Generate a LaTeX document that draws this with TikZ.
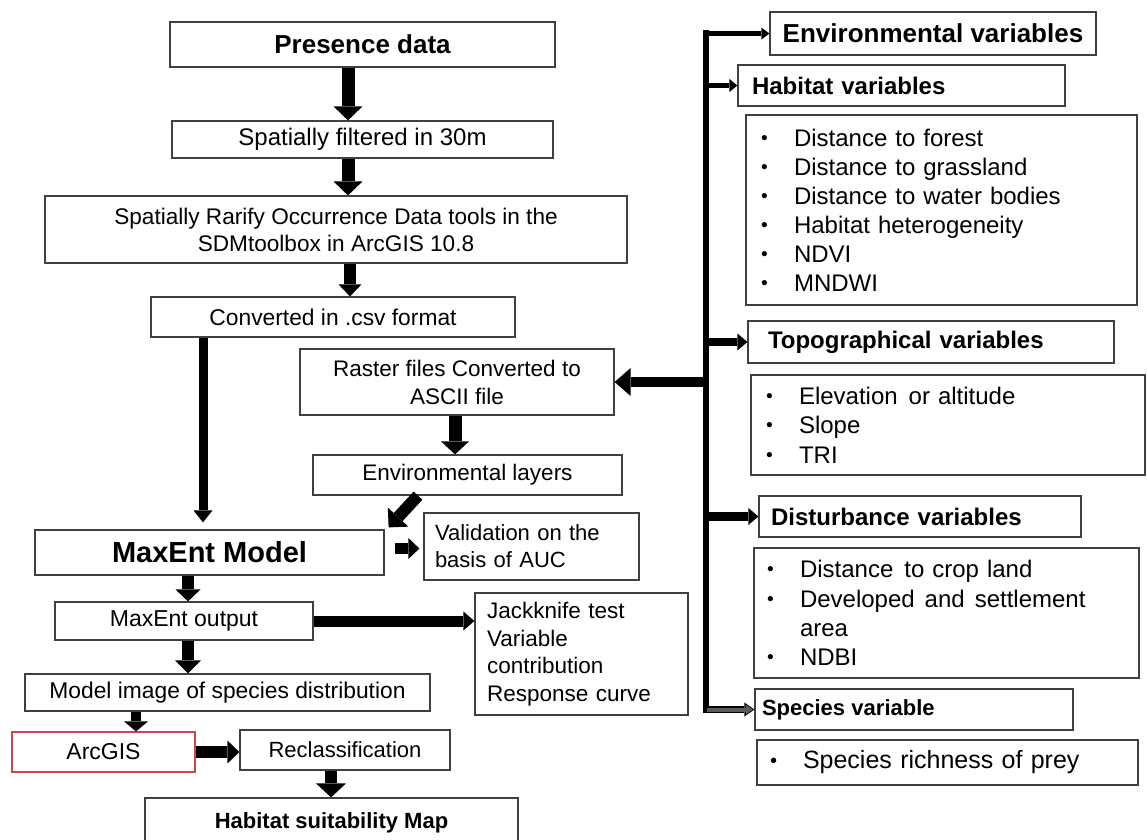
\documentclass[tikz,border=0pt]{standalone}
\usepackage{fontspec}
\setmainfont{Liberation Sans}
\usetikzlibrary{arrows.meta}
\newcommand\fsz[2]{\fontsize{#1}{#2}\selectfont}
\newcommand\bul{\makebox[34pt][l]{\hspace{1pt}\raisebox{1.8pt}{\scalebox{0.8}{\textbullet}}}}
\definecolor{edge}{RGB}{64,64,64}
\definecolor{redline}{RGB}{205,70,70}
\definecolor{greyarrow}{RGB}{90,90,90}
\begin{document}
\begin{tikzpicture}[x=1pt,y=-1pt,
  box/.style={draw=edge, line width=1.2pt, inner sep=0pt, align=center},
  lbox/.style={draw=edge, line width=1.2pt, inner ysep=0pt, align=left},
  blk/.style n args={3}{line width=#1pt, draw=black,
    -{Triangle[width=#2pt,length=#3pt,line width=0pt]}},
]
\useasboundingbox (0,0) rectangle (1147,839);

% ---------------- left column: processing steps ----------------
\node[box, minimum width=385pt, minimum height=45pt, font=\fsz{26}{31}\bfseries]
  (pres) at (362.5,44.5) {Presence data};
\node[box, minimum width=381pt, minimum height=37pt, font=\fsz{24}{29}]
  (filt) at (362.5,139.5) {Spatially filtered in 30m};
\node[box, minimum width=582pt, minimum height=67pt, font=\fsz{22.6}{27}]
  (rar) at (336,229.5) {Spatially Rarify Occurrence Data tools in the\\SDMtoolbox in ArcGIS 10.8};
\node[box, minimum width=364pt, minimum height=40pt, font=\fsz{22.8}{27}]
  (csv) at (333,317) {Converted in .csv format};
\node[box, minimum width=314pt, minimum height=66pt, font=\fsz{22.5}{28}]
  (rast) at (457,382) {Raster files Converted to\\ASCII file};
\node[box, minimum width=309pt, minimum height=40pt, font=\fsz{22.5}{27}]
  (env) at (467.5,475) {Environmental layers};
\node[box, minimum width=349pt, minimum height=45pt, font=\fsz{29}{34}\bfseries]
  (maxent) at (209.5,552.5) {MaxEnt Model};
\node[lbox, text width=193pt, inner xsep=11pt, minimum height=67pt, font=\fsz{22}{27}]
  (valid) at (531.5,546.5) {Validation on the\\basis of AUC};
\node[box, minimum width=258pt, minimum height=38pt, font=\fsz{23}{27}]
  (mout) at (184,621) {MaxEnt output};
\node[lbox, text width=189pt, inner xsep=12pt, minimum height=122pt, font=\fsz{22.5}{27.5}]
  (jack) at (581.5,654) {Jackknife test\\Variable\\contribution\\Response curve};
\node[box, minimum width=405pt, minimum height=37pt, font=\fsz{22.8}{27}]
  (model) at (227.5,692.5) {Model image of species distribution};
\node[box, draw=redline, minimum width=183pt, minimum height=40pt, font=\fsz{23}{27}]
  (arcgis) at (103.5,752) {ArcGIS};
\node[box, minimum width=210pt, minimum height=40pt, font=\fsz{22}{27}]
  (recl) at (345,750) {Reclassification};
\node[box, minimum width=373pt, minimum height=50pt, font=\fsz{22}{27}\bfseries]
  (hsm) at (331.5,823) {Habitat suitability Map};

% ---------------- right column: variables ----------------
\node[box, minimum width=326pt, minimum height=43pt, font=\fsz{26}{31}\bfseries]
  (ev) at (933,33.5) {Environmental variables};
\node[lbox, text width=299pt, inner xsep=14pt, minimum height=41pt, font=\fsz{24}{29}\bfseries]
  (hv) at (901.5,85.5) {Habitat variables};
\node[lbox, text width=363pt, inner xsep=14pt, minimum height=190pt, font=\fsz{24}{29}]
  (hl) at (941.5,210) {\bul Distance to forest\\\bul Distance to grassland\\\bul Distance to water bodies\\\bul Habitat heterogeneity\\\bul NDVI\\\bul MNDWI};
\node[lbox, text width=326pt, inner xsep=20pt, minimum height=42pt, font=\fsz{24}{29}\bfseries]
  (tv) at (931,342) {Topographical variables};
\node[lbox, text width=366pt, inner xsep=14pt, minimum height=100pt, font=\fsz{24}{29.5}]
  (tl) at (948,425) {\bul Elevation\hspace{3pt} or altitude\\\bul Slope\\\bul TRI};
\node[lbox, text width=298pt, inner xsep=12pt, minimum height=41pt, font=\fsz{24}{29}\bfseries]
  (dv) at (920,516.5) {Disturbance variables};
\node[lbox, text width=361pt, inner xsep=12pt, minimum height=130pt, font=\fsz{24}{29.3}]
  (dl) at (946.5,613) {\bul Distance\hspace{3pt} to crop land\\\bul Developed\hspace{2pt} and\hspace{2pt} settlement\\\makebox[34pt]{}area\\\bul NDBI};
\node[lbox, text width=304pt, inner xsep=7pt, minimum height=41pt, font=\fsz{22}{27}\bfseries]
  (sv) at (914,709.5) {Species\hspace{-1pt} variable};
\node[lbox, text width=357pt, inner xsep=12pt, minimum height=45pt, font=\fsz{25}{30}]
  (sl) at (947.5,762.5) {\bul Species richness of prey};

% ---------------- flow arrows (left column) ----------------
\coordinate (a1) at ([xshift=-14.5pt]pres.south);
\draw[blk={13}{29}{14}] (a1) -- (a1 |- filt.north);
\coordinate (a2) at ([xshift=-14.5pt]filt.south);
\draw[blk={13}{29}{14}] (a2) -- (a2 |- rar.north);
\coordinate (a3) at ([xshift=14pt]rar.south);
\draw[blk={12}{23}{12}] (a3) -- (a3 |- csv.north);
\coordinate (a4) at ([xshift=-130pt]csv.south);
\draw[blk={9}{19}{12}] (a4) -- ([yshift=7pt]a4 |- maxent.north);
\coordinate (a5) at ([xshift=-2pt]rast.south);
\draw[blk={13}{28}{13}] (a5) -- (a5 |- env.north);
\coordinate (a6) at ([xshift=-49.5pt]env.south);
\draw[blk={12}{28}{14}] (a6) -- ([xshift=4pt,yshift=2pt]maxent.north east);
\coordinate (a7) at ([yshift=4pt]maxent.east);
\draw[blk={11}{21}{11}, shorten <=10pt, shorten >=4pt] (a7) -- (a7 -| valid.west);
\coordinate (a8) at ([xshift=-21.5pt]maxent.south);
\draw[blk={12}{25}{12}] (a8) -- (a8 |- mout.north);
\draw[blk={11}{19}{11}] (mout.east) -- (mout.east -| jack.west);
\coordinate (a9) at ([xshift=4pt]mout.south);
\draw[blk={12}{26}{13}] (a9) -- (a9 |- model.north);
\coordinate (a10) at ([xshift=-91.5pt]model.south);
\draw[blk={10}{24}{10}] (a10) -- (a10 |- arcgis.north);
\draw[blk={12}{23}{12}] (arcgis.east) -- (arcgis.east -| recl.west);
\coordinate (a11) at ([xshift=-14pt]recl.south);
\draw[blk={12}{30}{14}] (a11) -- (a11 |- hsm.north);

% ---------------- trunk and branches (right column) ----------------
\coordinate (tTop) at (706,30);
\coordinate (tBot) at (706,710);
\draw[line width=6pt, black] (tTop) -- (tBot);
\coordinate (b1) at (tTop |- ev.west);
\draw[blk={5}{12}{8}] ([xshift=-3pt]b1) -- (ev.west);
\draw[blk={5}{13}{8}] (tTop |- hv.west) -- (hv.west);
\draw[blk={8}{17}{10}] (tTop |- tv.west) -- (tv.west);
\draw[blk={9}{17}{10}] (tTop |- dv.west) -- (dv.west);
\draw[blk={10}{28}{16}] (tTop |- rast.east) -- (rast.east);
% outlined grey branch to the species box
\coordinate (b6) at (tTop |- sv.west);
\draw[line width=7pt, black, -{Triangle[width=14pt,length=10pt,line width=0pt]}]
  ([xshift=-3pt]b6) -- (sv.west);
\draw[line width=4pt, greyarrow, shorten >=1.6pt, -{Triangle[width=10pt,length=7pt,line width=0pt]}]
  ([xshift=1pt]b6) -- (sv.west);
\end{tikzpicture}
\end{document}
